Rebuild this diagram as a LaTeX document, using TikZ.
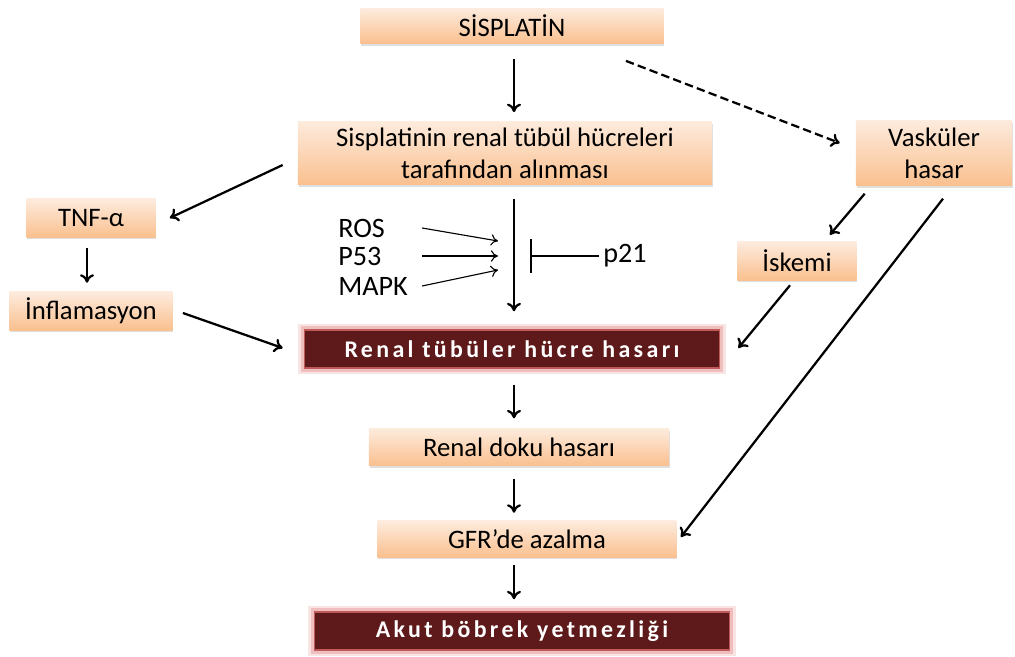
\documentclass[tikz,border=0pt]{standalone}
\usepackage{fontspec}
\setmainfont{Carlito}
\newfontfamily\spacedfont[LetterSpace=14]{Carlito}
\usetikzlibrary{arrows.meta,shadows}
\definecolor{boxtop}{HTML}{FDEBDD}
\definecolor{boxbot}{HTML}{FAC08F}
\definecolor{darkred}{HTML}{5E1A1A}
\definecolor{glowred}{HTML}{E07878}
\tikzset{
  stepbox/.style={rectangle, inner sep=0pt, top color=boxtop, bottom color=boxbot,
    drop shadow={shadow xshift=0.6pt, shadow yshift=-1.6pt, opacity=0.25},
    align=center, font=\fontsize{19}{23}\selectfont},
  damagebox/.style={rectangle, inner sep=0pt, fill=darkred, text=white,
    preaction={draw=glowred, line width=9pt, opacity=0.2},
    preaction={draw=glowred, line width=5pt, opacity=0.35},
    draw={rgb,255:red,190;green,90;blue,90}, line width=1pt,
    font=\spacedfont\bfseries\fontsize{17}{20}\selectfont},
  factor/.style={inner sep=0pt, anchor=west, font=\fontsize{20}{24}\selectfont},
  arr/.style={-{To[length=6pt,width=10pt]}, line width=1.6pt},
  thinarr/.style={-{To[length=5pt,width=8pt]}, line width=0.8pt}
}
\begin{document}
\begin{tikzpicture}[x=0.025cm,y=-0.025cm]
    \useasboundingbox (0,0) rectangle (1015,657);

    \node[stepbox, minimum width=7.58cm, minimum height=0.88cm] (sis) at (512,26) {SİSPLATİN};
    \node[stepbox, minimum width=10.35cm, minimum height=1.58cm] (upt) at (505,153) {Sisplatinin renal tübül hücreleri\\tarafından alınması};
    \node[stepbox, minimum width=3.9cm, minimum height=1.62cm] (vask) at (934,153) {Vasküler\\hasar};
    \node[stepbox, minimum width=3.22cm, minimum height=0.95cm] (tnf) at (91,218) {TNF-α};
    \node[stepbox, minimum width=4.08cm, minimum height=0.95cm] (inf) at (91,311) {İnflamasyon};
    \node[stepbox, minimum width=2.98cm, minimum height=0.95cm] (isk) at (797,261) {İskemi};
    \node[damagebox, minimum width=10.38cm, minimum height=0.95cm] (rth) at (512,349) {Renal tübüler hücre hasarı};
    \node[stepbox, minimum width=7.5cm, minimum height=0.92cm] (rdh) at (519,447) {Renal doku hasarı};
    \node[stepbox, minimum width=7.48cm, minimum height=0.9cm] (gfr) at (527,539) {GFR’de azalma};
    \node[damagebox, minimum width=10.38cm, minimum height=0.95cm] (abi) at (522,631) {Akut böbrek yetmezliği};

    \node[factor] (ros) at (338,228) {ROS};
    \node[factor] (p53) at (338,256) {P53};
    \node[factor] (mapk) at (338,286) {MAPK};
    \node[factor] (p21) at (603,256) {p21};

    \coordinate (src) at ([xshift=10]mapk.east);
    \coordinate (hit1) at (498,241);
    \coordinate (hit2) at (498,256);
    \coordinate (hit3) at (498,270);
    \coordinate (blk) at (530,256);

    \draw[arr] ([shift={(2,15)}]sis.south) -- ([shift={(9,-9)}]upt.north);
    \draw[arr, dash pattern=on 6pt off 3pt] ([shift={(-38,17)}]sis.south east) -- ([shift={(-16,-10)}]vask.west);
    \draw[arr] ([shift={(-15,12)}]upt.west) -- ([xshift=10]tnf.east);
    \draw[arr] ([shift={(-4,11)}]tnf.south) -- ([shift={(-4,-9)}]inf.north);
    \draw[arr] ([shift={(10,2)}]inf.east) -- ([shift={(-21,-1)}]rth.west);
    \draw[arr] ([shift={(9,14)}]upt.south) -- ([shift={(2,-18)}]rth.north);

    \draw[thinarr] (src |- ros) -- (hit1);
    \draw[thinarr] (src |- p53) -- (hit2);
    \draw[thinarr] (src |- mapk) -- (hit3);
    \draw[-{Bar[width=24pt]}, line width=1.6pt] ([xshift=-3]p21.west) -- (blk);

    \draw[arr] ([shift={(9,8)}]vask.south west) -- ([shift={(-27,-7)}]isk.north east);
    \draw[arr] ([shift={(-7,5)}]isk.south) -- ([shift={(18,-1)}]rth.east);
    \draw[arr] ([shift={(9,13)}]vask.south) -- ([shift={(4,-2)}]gfr.east);

    \draw[arr] ([shift={(2,16)}]rth.south) -- ([shift={(-5,-10)}]rdh.north);
    \draw[arr] ([shift={(-5,13)}]rdh.south) -- ([shift={(-13,-8)}]gfr.north);
    \draw[arr] ([shift={(-13,8)}]gfr.south) -- ([shift={(-8,-12)}]abi.north);
\end{tikzpicture}
\end{document}
